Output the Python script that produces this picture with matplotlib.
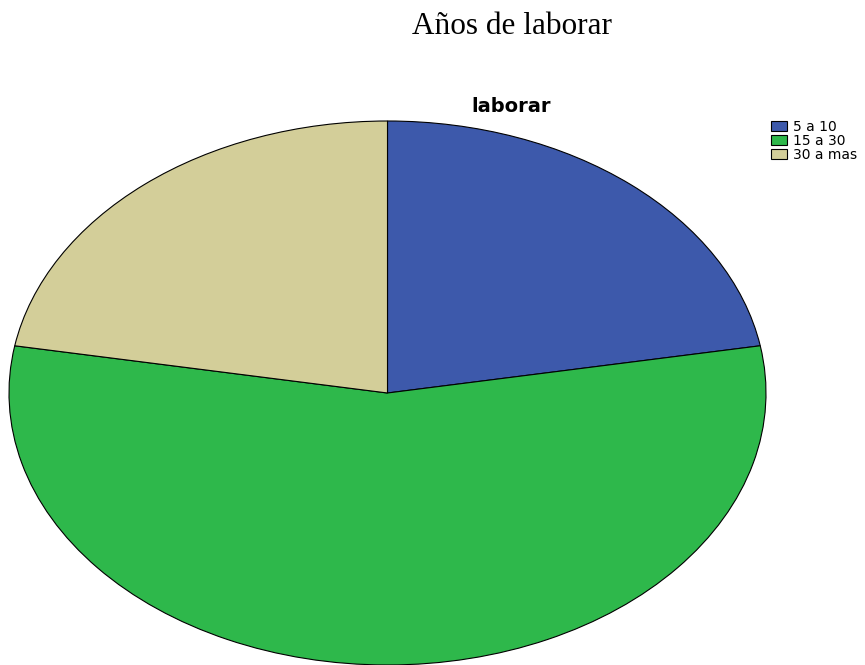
import matplotlib.pyplot as plt

# data
labels = ["5 a 10", "15 a 30", "30 a mas"]
counts = [2, 5, 2]
colors = ["#3d59ab", "#2eb84b", "#d3ce99"]

fig = plt.figure(figsize=(8.65, 6.65), dpi=100)

# elliptical pie: axes spans the ellipse box
ax = fig.add_axes([9 / 865, 0.0, 757 / 865, 544 / 665])
ax.pie(counts, colors=colors, startangle=90, counterclock=False,
       wedgeprops={"edgecolor": "black", "linewidth": 0.8})
ax.set_aspect("auto")
ax.set_xlim(-1.0, 1.0)
ax.set_ylim(-1.0, 1.0)
ax.axis("off")

fig.text(512 / 865, 1 - 26 / 665, "Años de laborar", ha="center", va="center",
         family="Liberation Serif", fontsize=22.5)
fig.text(511 / 865, 1 - 106 / 665, "laborar", ha="center", va="center",
         family="DejaVu Sans", weight="bold", fontsize=14)

handles = [plt.Rectangle((0, 0), 1, 1, facecolor=c, edgecolor="black", linewidth=0.8)
           for c in colors]
fig.legend(handles, labels, loc="upper left", bbox_to_anchor=(771 / 865, 1 - 120 / 665),
           frameon=False, prop={"family": "DejaVu Sans", "size": 10},
           handlelength=1.15, handleheight=0.8, handletextpad=0.45,
           labelspacing=0.0, borderpad=0, borderaxespad=0)

fig.savefig("out.png", dpi=100)
